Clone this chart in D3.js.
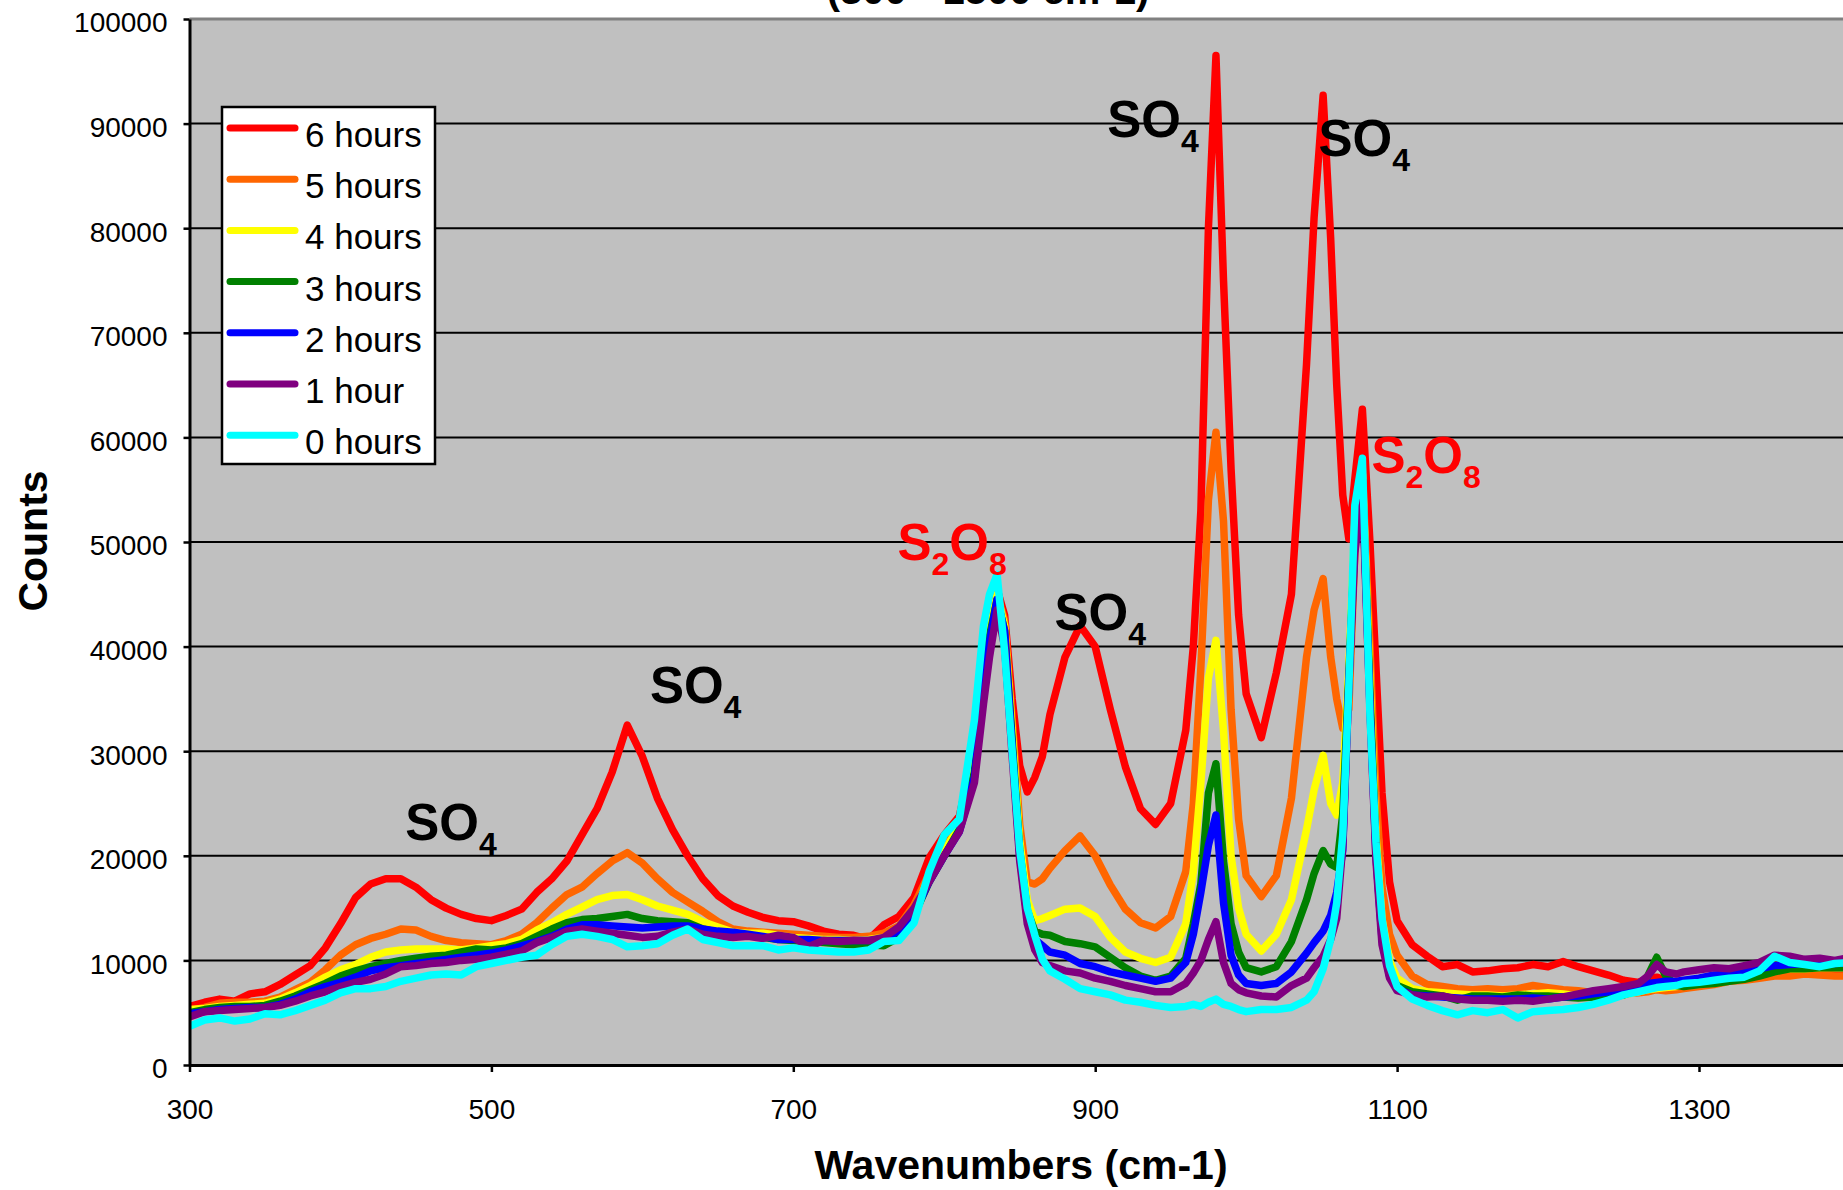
<!DOCTYPE html>
<meta charset="utf-8">
<script src="https://d3js.org/d3.v7.min.js"></script>
<style>
	body { margin: 0; background: #ffffff; }
	text { font-family: "Liberation Sans", Arial, sans-serif; }
</style>
<body>
<script>
// wavenumber grid shared by all spectra (cm-1)
var wavenumbers = [
	300, 310, 320, 330, 340, 350, 360, 370, 380, 390,
	400, 410, 420, 430, 440, 450, 460, 470, 480, 490,
	500, 510, 520, 530, 540, 550, 560, 570, 580, 590,
	600, 610, 620, 630, 640, 650, 660, 670, 680, 690,
	700, 710, 720, 730, 740, 750, 760, 770, 780, 790,
	800, 810, 820, 826, 830, 835, 840, 845, 850, 855,
	860, 865, 870, 880, 890, 900, 910, 920, 930, 940,
	950, 960, 965, 970, 975, 980, 985, 990, 995, 1000,
	1010, 1020, 1030, 1040, 1045, 1051, 1056, 1060, 1064, 1068,
	1072, 1077, 1082, 1086, 1090, 1095, 1100, 1110, 1120, 1130,
	1140, 1150, 1160, 1170, 1180, 1190, 1200, 1210, 1220, 1230,
	1240, 1250, 1260, 1266, 1272, 1278, 1285, 1290, 1300, 1310,
	1320, 1330, 1340, 1350, 1360, 1370, 1380, 1390, 1400];

var hours6 = [
	5600, 6000, 6300, 6100, 6800, 7000, 7700, 8600, 9500, 11200,
	13500, 16000, 17300, 17800, 17800, 17000, 15800, 15000, 14400, 14000,
	13800, 14300, 14900, 16500, 17800, 19500, 22000, 24500, 28000, 32500,
	29500, 25500, 22500, 20000, 17800, 16200, 15200, 14600, 14100, 13800,
	13700, 13300, 12800, 12500, 12400, 12000, 13400, 14200, 16000, 19800,
	22000, 23800, 30200, 39500, 43000, 45500, 43000, 35000, 28600, 26100,
	27500, 29500, 33500, 39000, 42000, 40000, 34000, 28500, 24500, 23000,
	25000, 32000, 40000, 53000, 80000, 96500, 75000, 57000, 43000, 35500,
	31300, 37500, 45000, 67000, 81000, 92700, 79000, 65000, 54500, 50300,
	56000, 62700, 50000, 38000, 26000, 17500, 13800, 11500, 10400, 9400,
	9600, 8900, 9000, 9200, 9300, 9600, 9400, 9900, 9400, 9000,
	8600, 8100, 7900, 8300, 8400, 8100, 7900, 7900, 8000, 8100,
	8400, 8200, 8600, 8900, 8700, 9000, 8700, 8600, 8600];

var hours5 = [
	5200, 5500, 5900, 6000, 6000, 6100, 6500, 7200, 7900, 9100,
	10500, 11500, 12100, 12500, 13000, 12900, 12300, 11900, 11700, 11600,
	11500, 11900, 12500, 13600, 15000, 16300, 17000, 18300, 19500, 20300,
	19300, 17800, 16500, 15600, 14700, 13700, 13000, 12800, 12700, 12600,
	12500, 12400, 12300, 12200, 12200, 12300, 12600, 13300, 15300, 18300,
	21000, 23200, 29000, 37500, 42000, 45000, 42500, 33000, 23000, 17500,
	17300, 17800, 18800, 20500, 21900, 20000, 17200, 14900, 13600, 13100,
	14200, 18500, 25000, 38000, 54000, 60500, 52000, 34000, 23500, 18100,
	16100, 18100, 25500, 39000, 43500, 46500, 39000, 35000, 32200, 34000,
	49000, 57000, 40000, 26000, 17000, 12500, 10500, 8500, 7700, 7500,
	7300, 7200, 7300, 7200, 7300, 7600, 7400, 7200, 7100, 6900,
	6800, 6800, 6900, 7000, 7200, 7100, 7200, 7300, 7500, 7700,
	8000, 8100, 8300, 8500, 8500, 8700, 8600, 8500, 8500];

var hours4 = [
	5300, 5400, 5600, 5700, 5800, 5900, 6300, 6900, 7600, 8400,
	9100, 9600, 10300, 10800, 11000, 11100, 11100, 11100, 11000, 11200,
	11400, 11600, 12000, 12900, 13600, 14400, 15100, 15800, 16200, 16300,
	15800, 15200, 14800, 14400, 13700, 13200, 12700, 12600, 12600, 12400,
	12200, 12100, 12000, 12000, 11900, 12000, 12200, 12700, 14500, 18000,
	20500, 22800, 28500, 37000, 41500, 45000, 42000, 32000, 21500, 15800,
	13800, 14000, 14300, 14900, 15000, 14200, 12200, 10800, 10200, 9800,
	10300, 13500, 18500, 27000, 37000, 40600, 32000, 20000, 15000, 12500,
	10900, 12500, 15800, 22500, 26300, 29600, 25000, 23900, 27000, 38000,
	52000, 56500, 37000, 22000, 14000, 10000, 8300, 7300, 7000, 6900,
	6800, 6700, 6700, 6600, 6700, 6800, 6900, 6800, 6600, 6500,
	6600, 6700, 7000, 7200, 7300, 7400, 7500, 7600, 7800, 8000,
	8200, 8300, 8700, 9100, 9200, 9200, 9300, 9300, 9300];

var hours3 = [
	5000, 5300, 5500, 5600, 5600, 5700, 6100, 6600, 7200, 7800,
	8500, 9000, 9400, 9700, 10000, 10200, 10400, 10500, 10800, 11100,
	11000, 11200, 11600, 12300, 13000, 13600, 13900, 14000, 14200, 14400,
	14000, 13800, 13700, 13600, 13000, 12700, 12500, 12400, 12200, 12000,
	11900, 11800, 11700, 11600, 11500, 11500, 11400, 12200, 14300, 17500,
	20000, 22500, 28000, 36500, 41000, 44500, 41500, 31000, 20500, 14800,
	12800, 12500, 12400, 11800, 11600, 11300, 10300, 9300, 8500, 8100,
	8500, 10200, 13500, 17300, 26000, 28800, 19500, 13500, 10800, 9300,
	8900, 9400, 11800, 15800, 18300, 20500, 19200, 18900, 24000, 37000,
	50500, 56000, 35500, 21000, 12500, 8800, 7600, 7000, 6800, 6600,
	6200, 6600, 6600, 6500, 6700, 6600, 6600, 6500, 6400, 6500,
	6500, 6700, 7200, 8500, 10300, 8500, 7600, 7500, 7700, 7800,
	8000, 8200, 8500, 8900, 9200, 9200, 9300, 9300, 9300];

var hours2 = [
	4900, 5100, 5300, 5400, 5500, 5500, 5800, 6300, 7000, 7500,
	7900, 8400, 9000, 9300, 9500, 9700, 9900, 10100, 10300, 10500,
	10700, 11000, 11400, 11800, 12300, 13000, 13400, 13400, 13300, 13200,
	13100, 13200, 13300, 13300, 13000, 12800, 12700, 12500, 12300, 12000,
	12000, 12000, 11900, 11900, 11900, 11900, 11900, 12900, 14500, 17500,
	20000, 22300, 27500, 36000, 40500, 44500, 41500, 30500, 20000, 14000,
	12000, 11400, 10800, 10500, 9700, 9400, 8900, 8600, 8300, 8000,
	8300, 9800, 12500, 16500, 21000, 23900, 15500, 10500, 8600, 7800,
	7600, 7800, 8900, 10700, 11700, 12800, 14300, 16500, 20500, 36500,
	50000, 56000, 34500, 20000, 12000, 8500, 7300, 6700, 6600, 6500,
	6400, 6300, 6300, 6300, 6300, 6400, 6300, 6500, 6600, 6800,
	7000, 7300, 7600, 7800, 7900, 8000, 8000, 8100, 8300, 8600,
	8700, 8900, 9200, 9500, 9600, 9700, 9700, 9700, 9800];

var hours1 = [
	4600, 5100, 5200, 5300, 5400, 5500, 5700, 6100, 6600, 7000,
	7500, 7900, 8200, 8700, 9400, 9500, 9700, 9800, 10000, 10100,
	10300, 10600, 10900, 11700, 12200, 12800, 13000, 12800, 12600, 12400,
	12200, 12300, 12700, 13000, 12500, 12300, 12200, 12300, 12100, 12400,
	12200, 11300, 11900, 11800, 11900, 11900, 12200, 13200, 15000, 17500,
	20000, 22300, 27000, 34500, 39000, 43500, 40000, 29500, 19500, 13500,
	11000, 9800, 9500, 9000, 8800, 8300, 8000, 7600, 7300, 7000,
	7000, 7800, 8800, 10000, 12000, 13700, 9800, 7800, 7200, 6900,
	6600, 6500, 7600, 8300, 9300, 10400, 12000, 14000, 21000, 36000,
	49000, 55000, 34000, 19500, 11500, 8300, 7100, 6700, 6500, 6600,
	6300, 6200, 6200, 6100, 6200, 6100, 6300, 6500, 6800, 7100,
	7300, 7500, 7800, 8500, 9600, 8900, 8700, 8900, 9100, 9300,
	9200, 9500, 9800, 10500, 10400, 10100, 10200, 10000, 10300];

var hours0 = [
	3700, 4300, 4500, 4200, 4400, 4900, 4800, 5200, 5700, 6200,
	6900, 7300, 7300, 7500, 8000, 8300, 8600, 8700, 8600, 9400,
	9700, 10000, 10300, 10500, 11500, 12300, 12500, 12300, 12000, 11300,
	11400, 11600, 12400, 13000, 12000, 11700, 11400, 11400, 11400, 11000,
	11200, 11000, 10900, 10800, 10800, 11000, 11800, 11900, 13600, 18500,
	22000, 23500, 33000, 42000, 45000, 46900, 39500, 30000, 20600, 15000,
	12400, 10100, 9000, 8200, 7300, 7000, 6700, 6200, 6000, 5700,
	5500, 5600, 5800, 5600, 6000, 6300, 5800, 5600, 5300, 5100,
	5300, 5300, 5500, 6200, 7000, 9200, 12000, 15500, 22000, 36000,
	53500, 58000, 33400, 21300, 14000, 9500, 7500, 6300, 5700, 5200,
	4800, 5200, 5000, 5300, 4500, 5100, 5200, 5300, 5500, 5800,
	6200, 6700, 7000, 7200, 7400, 7500, 7600, 7800, 7900, 8100,
	8300, 8400, 9000, 10400, 9800, 9600, 9400, 9700, 9800];

var seriesNames = ["6 hours", "5 hours", "4 hours", "3 hours", "2 hours", "1 hour", "0 hours"];
var seriesValues = [hours6, hours5, hours4, hours3, hours2, hours1, hours0];
var seriesColors = ["#ff0000", "#ff6600", "#ffff00", "#008000", "#0000ff", "#800080", "#00ffff"];

var xTicks = [300, 500, 700, 900, 1100, 1300];
var yTicks = [0, 10000, 20000, 30000, 40000, 50000, 60000, 70000, 80000, 90000, 100000];

// peak annotations: [text, subscript?] parts, anchored in data units
var peakLabels = [
	{parts: [["SO", 0], ["4", 1]], wave: 443, count: 21500, color: "#000000"},
	{parts: [["SO", 0], ["4", 1]], wave: 605, count: 34600, color: "#000000"},
	{parts: [["S", 0], ["2", 1], ["O", 0], ["8", 1]], wave: 769, count: 48300, color: "#ff0000"},
	{parts: [["SO", 0], ["4", 1]], wave: 873, count: 41600, color: "#000000"},
	{parts: [["SO", 0], ["4", 1]], wave: 908, count: 88700, color: "#000000"},
	{parts: [["SO", 0], ["4", 1]], wave: 1048, count: 86900, color: "#000000"},
	{parts: [["S", 0], ["2", 1], ["O", 0], ["8", 1]], wave: 1083, count: 56600, color: "#ff0000"}
];

var w = 1843,
	h = 1190,
	plotLeft = 189.5,
	plotTop = 19,
	plotBottom = 1065,
	pxPerUnit = 1.5095;

var svg = d3.select("body").append("svg")
	.attr("width", w)
	.attr("height", h)
	.style("display", "block");

var x = d3.scaleLinear()
	.domain([300, 1500])
	.range([plotLeft, plotLeft + 1200 * pxPerUnit]);

var y = d3.scaleLinear()
	.domain([0, 100000])
	.range([plotBottom, plotTop]);

// plot area
svg.append("rect")
	.attr("x", plotLeft)
	.attr("y", plotTop)
	.attr("width", x(1500) - plotLeft)
	.attr("height", plotBottom - plotTop)
	.style("fill", "#c0c0c0");

svg.selectAll(".grid")
	.data(yTicks.slice(1, -1))
	.enter()
	.append("line")
	.attr("class", "grid")
	.attr("x1", plotLeft)
	.attr("x2", x(1500))
	.attr("y1", function (d) { return y(d); })
	.attr("y2", function (d) { return y(d); })
	.style("stroke", "#000")
	.style("stroke-width", 2);

svg.append("line")
	.attr("x1", plotLeft)
	.attr("x2", x(1500))
	.attr("y1", y(100000))
	.attr("y2", y(100000))
	.style("stroke", "#808080")
	.style("stroke-width", 3);

svg.append("defs").append("clipPath")
	.attr("id", "clip")
	.append("rect")
	.attr("x", plotLeft)
	.attr("y", plotTop)
	.attr("width", x(1500) - plotLeft)
	.attr("height", plotBottom - plotTop);

var line = d3.line()
	.x(function (d) { return x(d[0]); })
	.y(function (d) { return y(d[1]); });

svg.append("g")
	.attr("clip-path", "url(#clip)")
	.selectAll(".spectrum")
	.data(seriesValues)
	.enter()
	.append("path")
	.attr("class", "spectrum")
	.attr("d", function (vals) { return line(wavenumbers.map(function (wn, i) { return [wn, vals[i]]; })); })
	.style("fill", "none")
	.style("stroke", function (d, i) { return seriesColors[i]; })
	.style("stroke-width", 7.5)
	.style("stroke-linejoin", "round")
	.style("stroke-linecap", "round");

// axes
var xAxis = svg.append("g")
	.attr("transform", "translate(0," + plotBottom + ")")
	.call(d3.axisBottom(x).tickValues(xTicks).tickSize(7).tickSizeOuter(0).tickPadding(27).tickFormat(d3.format("d")));

var yAxis = svg.append("g")
	.attr("transform", "translate(" + plotLeft + ",0)")
	.call(d3.axisLeft(y).tickValues(yTicks).tickSize(6).tickSizeOuter(0).tickPadding(16).tickFormat(d3.format("d")));

[xAxis, yAxis].forEach(function (g) {
	g.select(".domain").style("stroke", "#000").style("stroke-width", 3);
	g.selectAll(".tick line").style("stroke", "#000").style("stroke-width", 2.5);
	g.selectAll(".tick text")
		.style("font-family", "'Liberation Sans', Arial, sans-serif")
		.style("font-size", "28px")
		.style("fill", "#000");
});
yAxis.selectAll(".tick text").attr("dy", "0.46em");

// axis titles
svg.append("text")
	.attr("x", 1021)
	.attr("y", 1179)
	.style("text-anchor", "middle")
	.style("font-size", "41px")
	.style("font-weight", "bold")
	.text("Wavenumbers (cm-1)");

svg.append("text")
	.attr("transform", "translate(47,541) rotate(-90)")
	.style("text-anchor", "middle")
	.style("font-size", "41px")
	.style("font-weight", "bold")
	.text("Counts");

// chart title, cut off by the top of the picture
svg.append("text")
	.attr("x", 988)
	.attr("y", 4)
	.style("text-anchor", "middle")
	.style("font-size", "40px")
	.style("font-weight", "bold")
	.text("(300 - 1500 cm-1)");

// peak labels
peakLabels.forEach(function (lab) {
	var t = svg.append("text")
		.attr("x", x(lab.wave))
		.attr("y", y(lab.count))
		.style("font-weight", "bold")
		.style("fill", lab.color);
	var shifted = false;
	lab.parts.forEach(function (p) {
		var dy = 0;
		if (p[1] && !shifted) { dy = 15; shifted = true; }
		if (!p[1] && shifted) { dy = -15; shifted = false; }
		t.append("tspan")
			.attr("dy", dy)
			.style("font-size", p[1] ? "32px" : "51px")
			.text(p[0]);
	});
});

// legend
var legend = svg.append("g");
legend.append("rect")
	.attr("x", 222)
	.attr("y", 107)
	.attr("width", 213)
	.attr("height", 357)
	.style("fill", "#fff")
	.style("stroke", "#000")
	.style("stroke-width", 2.5);

var entry = legend.selectAll(".entry")
	.data(seriesNames)
	.enter()
	.append("g")
	.attr("class", "entry")
	.attr("transform", function (d, i) { return "translate(0," + (128 + i * 51.2) + ")"; });

entry.append("line")
	.attr("x1", 230)
	.attr("x2", 295)
	.style("stroke", function (d, i) { return seriesColors[i]; })
	.style("stroke-width", 7)
	.style("stroke-linecap", "round");

entry.append("text")
	.attr("x", 305)
	.attr("y", 19)
	.style("font-size", "35px")
	.text(function (d) { return d; });
</script>
</body>
</html>
